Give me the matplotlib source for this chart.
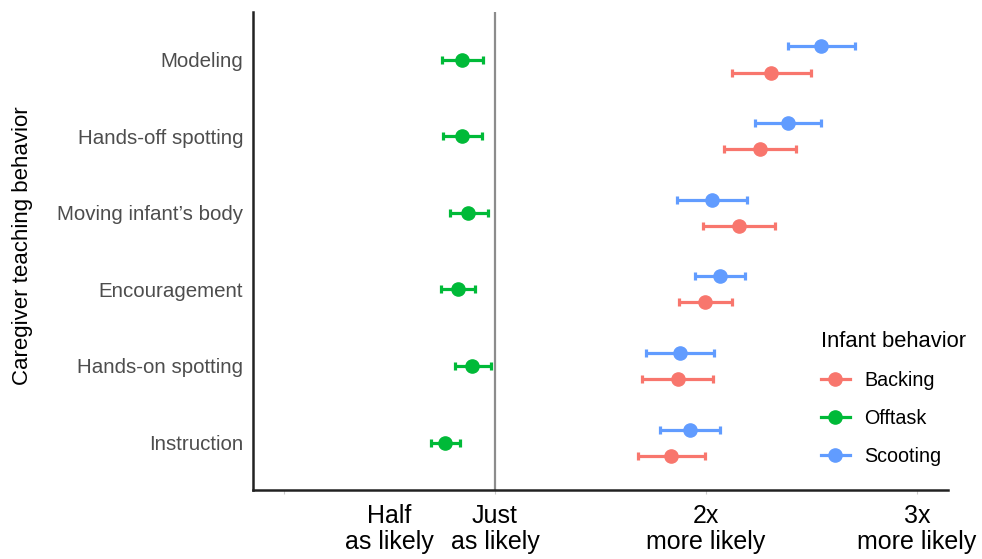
import numpy as np
import matplotlib
matplotlib.use('Agg')
import matplotlib.pyplot as plt
from matplotlib.lines import Line2D

plt.rcParams['font.family'] = ['Liberation Sans', 'DejaVu Sans']

# Categories, top to bottom
behaviors = ['Modeling', 'Hands-off spotting', "Moving infant\u2019s body",
             'Encouragement', 'Hands-on spotting', 'Instruction']

# Estimates and interval bounds
backing = [2.308, 2.256, 2.156, 1.995, 1.867, 1.834]
backing_lo = [2.123, 2.085, 1.986, 1.872, 1.697, 1.678]
backing_hi = [2.498, 2.427, 2.327, 2.123, 2.033, 1.995]

offtask = [0.844, 0.844, 0.872, 0.825, 0.891, 0.763]
offtask_lo = [0.749, 0.754, 0.787, 0.744, 0.810, 0.697]
offtask_hi = [0.943, 0.938, 0.967, 0.905, 0.981, 0.834]

scooting = [2.545, 2.389, 2.028, 2.066, 1.877, 1.924]
scooting_lo = [2.389, 2.232, 1.863, 1.948, 1.716, 1.782]
scooting_hi = [2.706, 2.545, 2.194, 2.185, 2.038, 2.066]

tick_pos = [0.5, 1, 2, 3]
tick_text = ['Half\nas likely', 'Just\nas likely', '2x\nmore likely', '3x\nmore likely']

red = '#F8766D'
green = '#00BA38'
blue = '#619CFF'

fig = plt.figure(figsize=(9.82, 5.59), dpi=100)
ax = fig.add_axes([0.2576, 0.1234, 0.7078, 0.8551])

ypos = np.arange(len(behaviors))[::-1].astype(float)
dodge = 0.17

series = [
    ('Backing', backing, backing_lo, backing_hi, red, -dodge),
    ('Offtask', offtask, offtask_lo, offtask_hi, green, 0.0),
    ('Scooting', scooting, scooting_lo, scooting_hi, blue, dodge),
]

ax.axvline(1, color='#8c8c8c', lw=1.6, zorder=1)

for name, est, lo, hi, col, off in series:
    est = np.array(est)
    err = np.vstack([est - np.array(lo), np.array(hi) - est])
    ax.errorbar(est, ypos + off, xerr=err, fmt='o', color=col, ms=9.5,
                elinewidth=2.3, capsize=3, capthick=2.3, zorder=3)

ax.set_xlim(-0.147, 3.147)
ax.set_ylim(-0.62, len(behaviors) - 1 + 0.62)
ax.set_yticks(ypos)
ax.set_yticklabels(behaviors, fontsize=14.8, color='#4D4D4D')
ax.tick_params(axis='y', length=0, pad=7)
ax.set_xticks([0, 1, 2, 3])
ax.set_xticklabels([])
ax.tick_params(axis='x', length=3, color='#cccccc', width=0.8)

for xv, lab in zip(tick_pos, tick_text):
    ax.text(xv, -0.80, lab, ha='center', va='top', fontsize=18,
            linespacing=1.12, transform=ax.transData, clip_on=False)

ax.spines['top'].set_visible(False)
ax.spines['right'].set_visible(False)
ax.spines['left'].set_linewidth(1.8)
ax.spines['bottom'].set_linewidth(1.8)
ax.spines['left'].set_color('#222222')
ax.spines['bottom'].set_color('#222222')

fig.text(0.023, 0.56, 'Caregiver teaching behavior', rotation=90, ha='center',
         va='center', fontsize=16)

handles = [Line2D([0], [0], color=c, lw=2.3, marker='o', ms=9.5)
           for c in (red, green, blue)]
leg = fig.legend(handles, ['Backing', 'Offtask', 'Scooting'],
                 title='Infant behavior', loc='upper left',
                 bbox_to_anchor=(0.818, 0.439), frameon=False,
                 fontsize=14.2, title_fontsize=15.8, handlelength=1.45,
                 labelspacing=0.95, handletextpad=0.75)
leg._legend_box.align = 'left'

fig.savefig('out.png', dpi=100)
